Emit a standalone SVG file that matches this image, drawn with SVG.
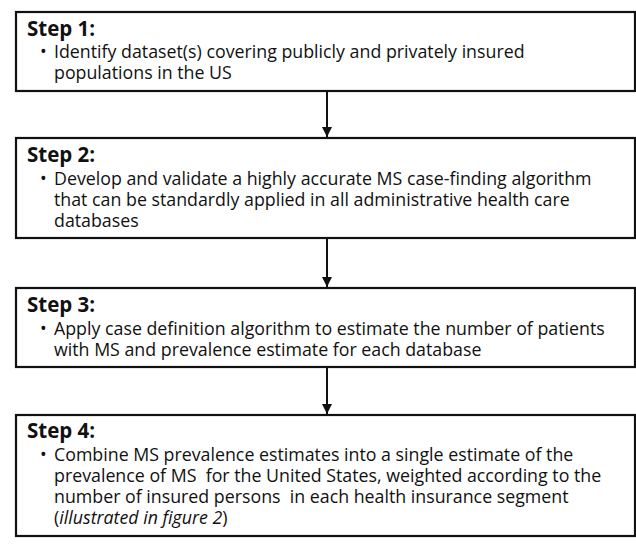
<svg xmlns="http://www.w3.org/2000/svg" width="636" height="550" viewBox="0 0 636 550">
<style>
.box{fill:#fff;stroke:#111;stroke-width:2.2}
.h{font-family:"Open Sans","Noto Sans",sans-serif;font-weight:bold;font-size:20.5px;fill:#111}
.t{font-family:"Open Sans","Noto Sans",sans-serif;font-size:17.8px;fill:#111}
.c{stroke:#111;stroke-width:2;fill:none}
</style>
<defs>
<marker id="ah" viewBox="0 0 10 10" refX="10" refY="5" markerWidth="10" markerHeight="10" markerUnits="userSpaceOnUse" orient="auto">
<path d="M0,0 L10,5 L0,10 z" fill="#111"/>
</marker>
</defs>
<rect width="636" height="550" fill="#fff"/>
<g id="connectors">
<line class="c" x1="327" y1="91" x2="327" y2="137" marker-end="url(#ah)"/>
<line class="c" x1="327" y1="239" x2="327" y2="287" marker-end="url(#ah)"/>
<line class="c" x1="327" y1="368" x2="327" y2="414" marker-end="url(#ah)"/>
</g>
<g id="step1">
<rect class="box" x="16" y="12" width="619" height="79"/>
<text class="h" x="27" y="36">Step 1:</text>
<text class="t" x="40" y="58">•</text>
<text class="t" x="54" y="58">Identify dataset(s) covering publicly and privately insured</text>
<text class="t" x="54" y="79">populations in the US</text>
</g>
<g id="step2">
<rect class="box" x="16" y="138" width="619" height="100"/>
<text class="h" x="27" y="162">Step 2:</text>
<text class="t" x="40" y="185">•</text>
<text class="t" x="54" y="185">Develop and validate a highly accurate MS case-finding algorithm</text>
<text class="t" x="54" y="206">that can be standardly applied in all administrative health care</text>
<text class="t" x="54" y="227">databases</text>
</g>
<g id="step3">
<rect class="box" x="16" y="288" width="619" height="79"/>
<text class="h" x="27" y="312">Step 3:</text>
<text class="t" x="40" y="335">•</text>
<text class="t" x="54" y="335">Apply case definition algorithm to estimate the number of patients</text>
<text class="t" x="54" y="356">with MS and prevalence estimate for each database</text>
</g>
<g id="step4">
<rect class="box" x="16" y="415" width="619" height="121"/>
<text class="h" x="27" y="438">Step 4:</text>
<text class="t" x="40" y="461">•</text>
<text class="t" x="54" y="461">Combine MS prevalence estimates into a single estimate of the</text>
<text class="t" x="54" y="482" xml:space="preserve">prevalence of MS  for the United States, weighted according to the</text>
<text class="t" x="54" y="503" xml:space="preserve">number of insured persons  in each health insurance segment</text>
<text class="t" x="54" y="524">(<tspan font-style="italic">illustrated in figure 2</tspan>)</text>
</g>
</svg>
